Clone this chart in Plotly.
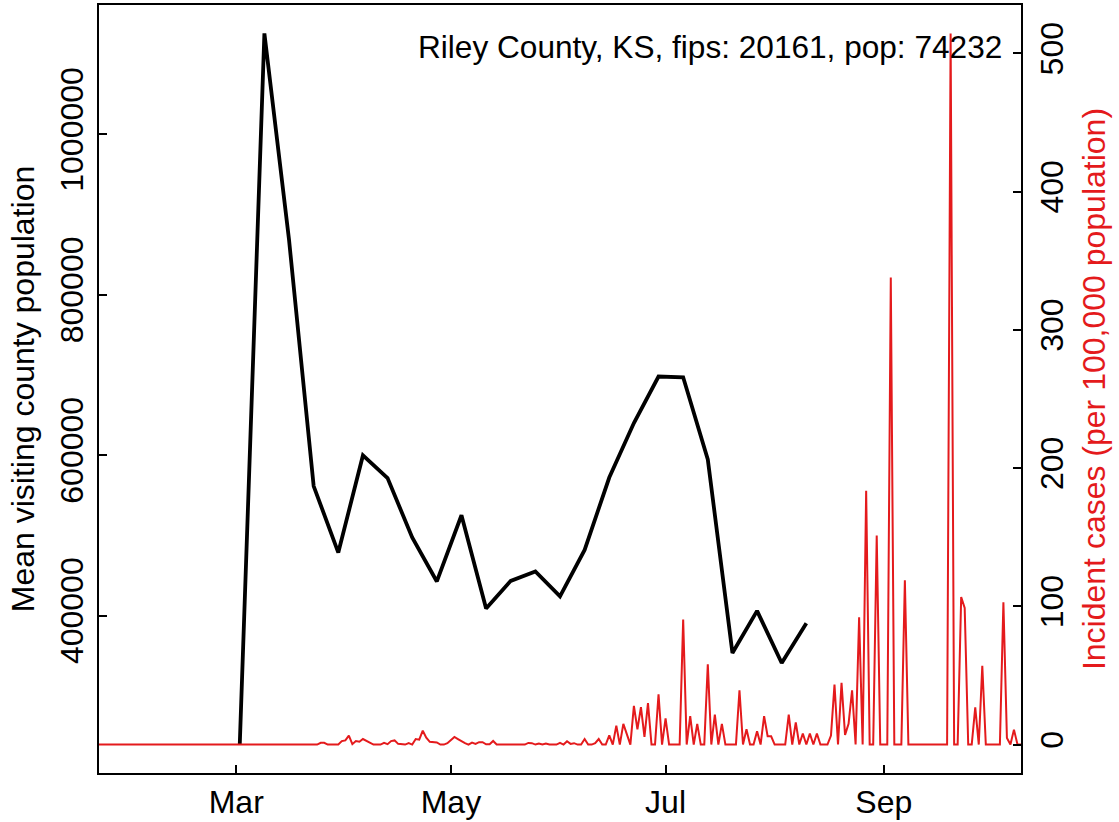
import plotly.graph_objects as go
import pandas as pd

# ---- data ----
case_start = "2020-01-22"
cases = (
    [0] * 63 + [
    1.3, 1.3, 0, 0, 0, 0, 2.5, 3, 6.5, 0.3,
    2.5, 2, 4, 2.5, 1, 0, 0, 0, 1.2, 0.3,
    2.5, 3, 0.5, 0, 0, 1, 0, 4, 3.5, 10,
    5, 2, 2, 1.5, 0, 0, 1, 3, 5.5, 4,
    2.4, 1, 0, 1.4, 0.5, 1.7, 1.7, 0.2, 0.2, 2.6,
    0, 0, 0, 0, 0, 0, 0, 0, 0, 1.2,
    1, 0, 0.8, 0, 0.8, 0, 0, 0, 1.2, 0,
    2.4, 0.5, 1, 0, 0, 4, 0, 0, 1, 4,
    0, 0, 6.7, 0, 13.7, 0, 15, 7, 0, 28,
    11, 27, 5.5, 30, 0, 0, 36.4, 0, 19, 0,
    0, 0, 0, 90.4, 0, 20.5, 0, 15, 0, 0,
    58, 0, 21.7, 0, 15, 0, 0, 0, 0, 39.3,
    0, 11, 0, 0, 9.6, 0, 20.5, 6, 6, 0,
    0, 0, 0, 21.7, 0, 16, 0, 8, 0, 8,
    0, 8, 0, 0, 0, 6.5, 43.4, 0, 44.6, 7,
    15, 39.3, 0, 92, 0, 183.6, 0, 0, 151.3, 0,
    0, 0, 338, 0, 0, 0, 118.8, 0, 0, 0,
    0, 0, 0, 0, 0, 0, 0, 0, 0, 514.5,
    0, 0, 106.7, 98.8, 0, 0, 27, 0, 57, 0,
    0, 0, 0, 0, 102.9, 4.8, 0, 10.8, 0, 0,
])
case_dates = pd.date_range(case_start, periods=len(cases), freq="D")

visit_start = "2020-03-02"
visitors = [239100, 1125700, 868500, 561400, 478500, 599600, 571400, 497200,
            442450, 525000, 408800, 443200, 454900, 423800, 481800, 572000,
            640000, 698000, 697000, 594600, 353200, 405800, 340800, 390200]
visit_dates = pd.date_range(visit_start, periods=len(visitors), freq="7D")

x_tick_vals = ["2020-03-01", "2020-05-01", "2020-07-01", "2020-09-01"]
x_tick_text = ["Mar", "May", "Jul", "Sep"]
y1_ticks = [400000, 600000, 800000, 1000000]
y1_text = ["400000", "600000", "800000", "1000000"]
y2_ticks = [0, 100, 200, 300, 400, 500]
y2_text = ["0", "100", "200", "300", "400", "500"]
label = "Riley County, KS, fips: 20161, pop: 74232"

RED = "#E41A1C"
FONT = "Liberation Sans"
FS = 32


def pad(lo, hi, f=0.04):
    s = hi - lo
    return [lo - f * s, hi + f * s]


fig = go.Figure()
fig.add_trace(go.Scatter(x=case_dates, y=cases, mode="lines",
                         line=dict(color=RED, width=2), yaxis="y2",
                         showlegend=False))
fig.add_trace(go.Scatter(x=visit_dates, y=visitors, mode="lines",
                         line=dict(color="black", width=3.8), yaxis="y",
                         showlegend=False))

axis_common = dict(showgrid=False, zeroline=False, showline=True,
                   linecolor="black", linewidth=2, ticks="inside",
                   ticklen=8, tickwidth=1.5, tickcolor="black",
                   automargin=False,
                   tickfont=dict(family=FONT, size=FS, color="black"))

fig.update_layout(
    width=1119, height=822,
    margin=dict(l=99, r=98, t=5, b=49),
    paper_bgcolor="white", plot_bgcolor="white",
    font=dict(family=FONT, size=FS, color="black"),
    xaxis=dict(type="date", range=[case_dates[0], case_dates[-1]],
               tickmode="array", tickvals=x_tick_vals, ticktext=x_tick_text,
               mirror=True, ticklabelstandoff=0, **axis_common),
    yaxis=dict(range=pad(min(visitors), max(visitors)),
               tickmode="array", tickvals=y1_ticks, ticktext=y1_text,
               tickangle=-90, ticklabelstandoff=1,
               title=dict(text="Mean visiting county population",
                          font=dict(family=FONT, size=FS, color="black"),
                          standoff=10),
               **axis_common),
    yaxis2=dict(range=pad(0, max(cases)), overlaying="y", side="right",
                tickmode="array", tickvals=y2_ticks, ticktext=y2_text,
                tickangle=-90, ticklabelstandoff=2,
                title=dict(text="Incident cases (per 100,000 population)",
                           font=dict(family=FONT, size=FS, color=RED),
                           standoff=13),
                **axis_common),
    annotations=[dict(text=label, xref="paper", yref="paper",
                      x=0.9816, y=0.945, xanchor="right", yanchor="middle",
                      showarrow=False,
                      font=dict(family=FONT, size=31.6, color="black"))],
)

fig.write_html("out.html",
               config={"displayModeBar": False},
               post_script="document.body.style.margin='0px';")
